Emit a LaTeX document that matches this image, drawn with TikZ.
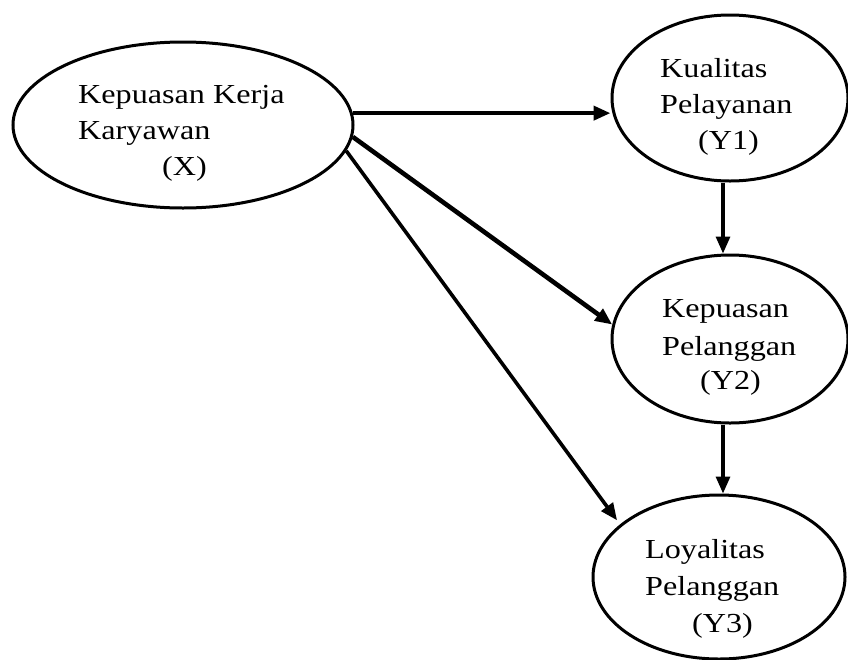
\documentclass[tikz,border=0pt]{standalone}
\usepackage{fontspec}
\setmainfont{Liberation Serif}
\newfontfamily\lblfont[FakeStretch=1.17]{Liberation Serif}
\usetikzlibrary{shapes.geometric,arrows.meta}
\begin{document}
\begin{tikzpicture}[x=1pt,y=-1pt,
  var/.style={draw=black,line width=3pt,ellipse,inner sep=0pt,fill=white},
  lbl/.style={anchor=base west,inner sep=0pt,font=\lblfont\fontsize{27.5pt}{36pt}\selectfont},
  arr/.style={-{Triangle[length=17pt,width=14pt]},line width=3pt}]
\useasboundingbox (0,0) rectangle (848,659);
\fill[white] (0,0) rectangle (848,659);
% ellipses
\node[var,minimum width=340pt,minimum height=166pt] (X) at (183,125) {};
\node[var,minimum width=236pt,minimum height=166pt] (Y1) at (730,98) {};
\node[var,minimum width=236pt,minimum height=168pt] (Y2) at (730,339) {};
\node[var,minimum width=252pt,minimum height=164pt] (Y3) at (719,577) {};
% texts
\node[lbl] (tx1) at (78,103) {Kepuasan Kerja};
\node[lbl] (tx2) at (78,139) {Karyawan};
\node[lbl] (tx3) at (162,175) {(X)};
\node[lbl] (ta1) at (660,77) {Kualitas};
\node[lbl] (ta2) at (660,113) {Pelayanan};
\node[lbl] (ta3) at (698,149) {(Y1)};
\node[lbl] (tb1) at (662,317) {Kepuasan};
\node[lbl] (tb2) at (662,355) {Pelanggan};
\node[lbl] (tb3) at (700,389) {(Y2)};
\node[lbl] (tc1) at (645,558) {Loyalitas};
\node[lbl] (tc2) at (645,595) {Pelanggan};
\node[lbl] (tc3) at (692,632) {(Y3)};
% connectors
\draw[arr,line width=4pt] (X.4) -- (X.4 -| Y1.west);
\draw[arr,line width=4.6pt] (X.-4.4) -- (Y2.173.3);
\draw[arr,line width=3.6pt,shorten >=5pt] (X.-9.3) -- (Y3.152.4);
\draw[arr,line width=3.2pt] ([xshift=-7pt]Y1.south) -- ([xshift=-7pt]Y2.north);
\draw[arr,line width=3.2pt] ([xshift=-7pt]Y2.south) -- ([xshift=4pt]Y3.north);
\end{tikzpicture}
\end{document}
